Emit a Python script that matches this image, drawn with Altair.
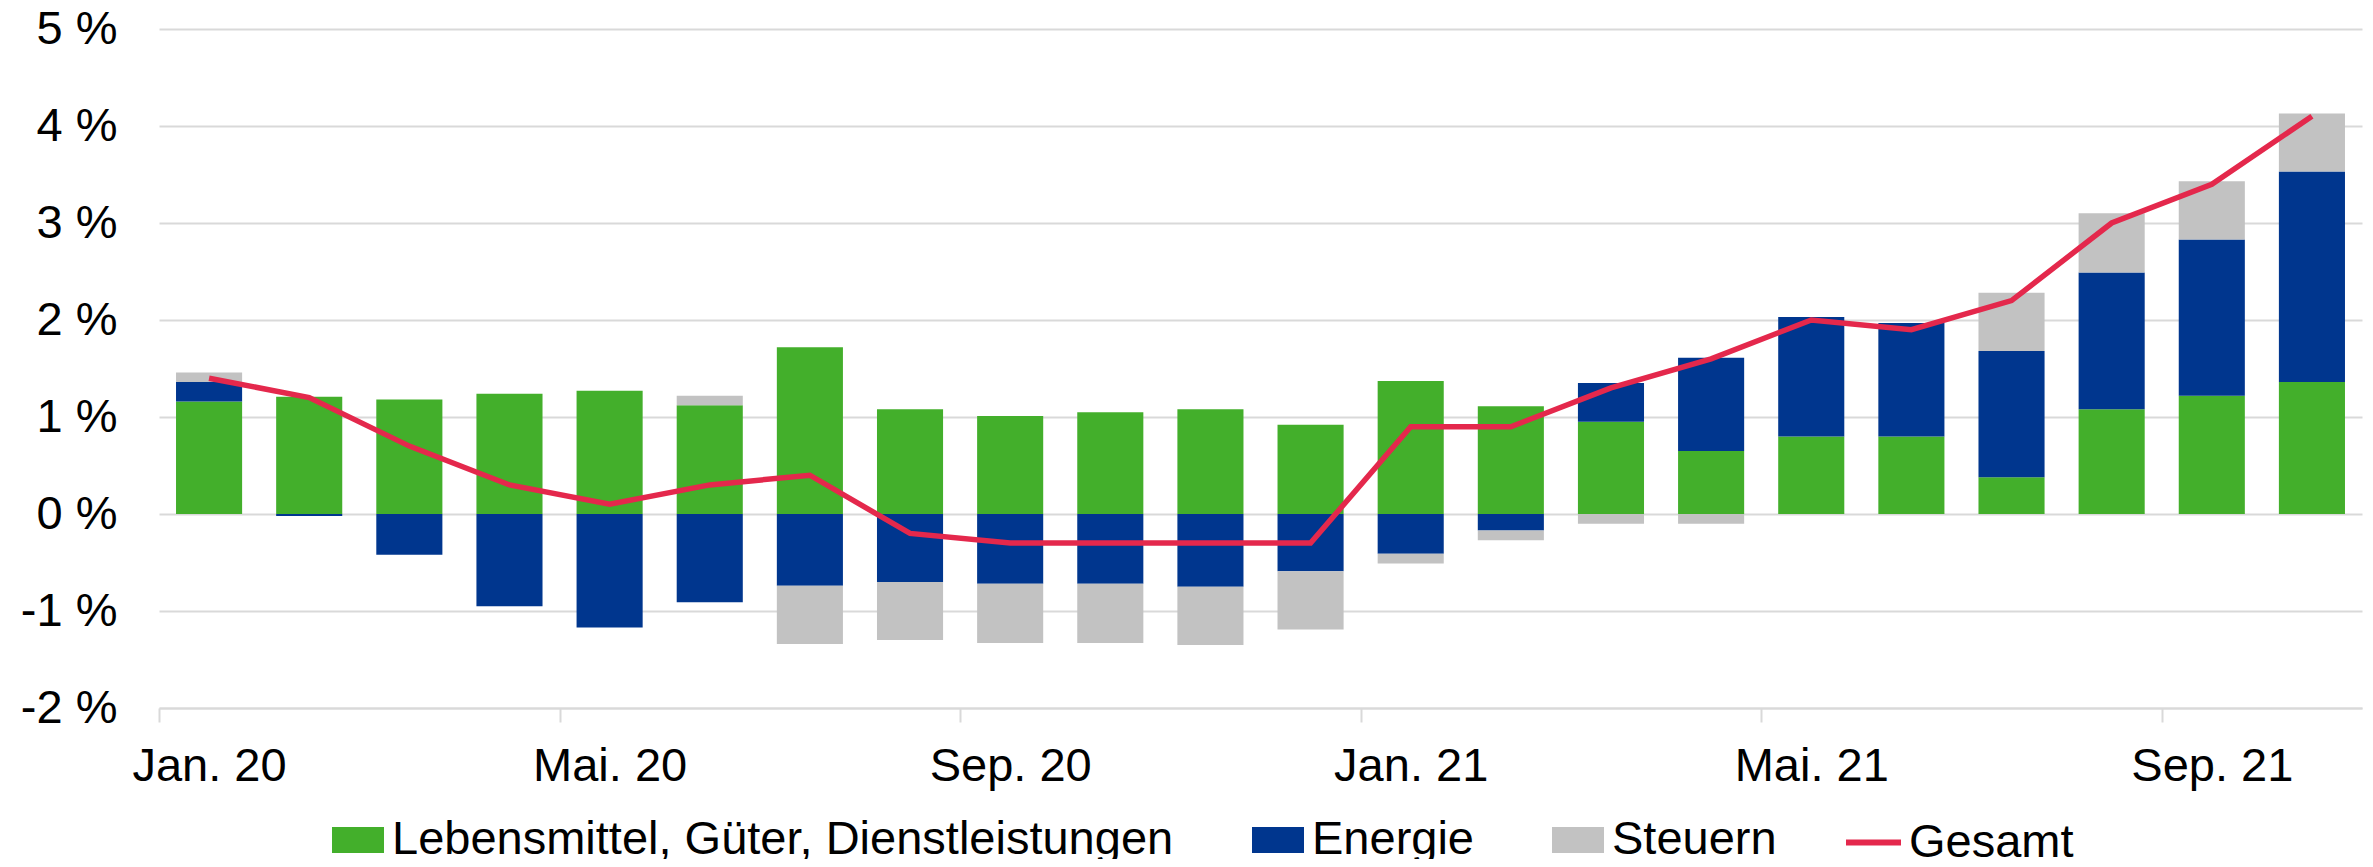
import altair as alt
import pandas as pd

FONT = "Liberation Sans"
GRID = "#d9d9d9"

monate = ["Jan. 20", "Feb. 20", "Mrz. 20", "Apr. 20", "Mai. 20", "Jun. 20",
          "Jul. 20", "Aug. 20", "Sep. 20", "Okt. 20", "Nov. 20", "Dez. 20",
          "Jan. 21", "Feb. 21", "Mrz. 21", "Apr. 21", "Mai. 21", "Jun. 21",
          "Jul. 21", "Aug. 21", "Sep. 21", "Okt. 21"]
achsen_labels = ["Jan. 20", "Mai. 20", "Sep. 20", "Jan. 21", "Mai. 21", "Sep. 21"]

lebensmittel = [1.16, 1.21, 1.18, 1.24, 1.27, 1.12, 1.72, 1.08, 1.01, 1.05, 1.08,
                0.92, 1.37, 1.11, 0.95, 0.65, 0.80, 0.80, 0.38, 1.08, 1.22, 1.36]
energie = [0.20, -0.02, -0.42, -0.95, -1.17, -0.91, -0.74, -0.70, -0.72, -0.72, -0.75,
           -0.59, -0.41, -0.17, 0.40, 0.96, 1.23, 1.17, 1.30, 1.41, 1.61, 2.17]
steuern = [0.10, 0.0, 0.0, 0.0, 0.0, 0.10, -0.60, -0.60, -0.61, -0.61, -0.60,
           -0.60, -0.10, -0.10, -0.10, -0.10, 0.0, 0.0, 0.60, 0.61, 0.60, 0.60]
gesamt = [1.4, 1.2, 0.7, 0.3, 0.1, 0.3, 0.4, -0.2, -0.3, -0.3, -0.3,
          -0.3, 0.9, 0.9, 1.3, 1.6, 2.0, 1.9, 2.2, 3.0, 3.4, 4.1]

komponenten = ["Lebensmittel, Güter, Dienstleistungen", "Energie", "Steuern"]
farben = ["#43af2b", "#00368e", "#c2c2c2"]
rot = "#e4284c"

rows = []
for i, m in enumerate(monate):
    for rang, (k, serie) in enumerate(zip(komponenten, [lebensmittel, energie, steuern])):
        rows.append({"Monat": m, "Komponente": k, "Wert": serie[i], "rang": rang})
bars_df = pd.DataFrame(rows)
line_df = pd.DataFrame({"Monat": monate, "Gesamt": gesamt, "Serie": ["Gesamt"] * len(monate)})

W = 2203
H = 679
step = W / len(monate)

x_enc = alt.X(
    "Monat:N", sort=monate,
    scale=alt.Scale(paddingInner=0.34, paddingOuter=0.17),
    axis=alt.Axis(values=achsen_labels, title=None, labelAngle=0, labelFontSize=47,
                  labelFont=FONT, labelColor="#000000", tickSize=14, tickColor=GRID,
                  tickWidth=2, domainColor=GRID, domainWidth=2, tickOffset=-step / 2,
                  labelOffset=step / 2, labelPadding=21, grid=False),
)
y_scale = alt.Scale(domain=[-2, 5], nice=False, zero=False)
y_axis = alt.Axis(values=[-2, -1, 0, 1, 2, 3, 4, 5], title=None,
                  labelExpr="datum.value + ' %'", labelFontSize=47, labelFont=FONT,
                  labelColor="#000000", grid=True, gridColor=GRID, gridWidth=2,
                  domain=False, ticks=False, tickSize=0, labelPadding=42)

bars = alt.Chart(bars_df).mark_bar().encode(
    x=x_enc,
    y=alt.Y("Wert:Q", stack="zero", scale=y_scale, axis=y_axis),
    color=alt.Color(
        "Komponente:N",
        scale=alt.Scale(domain=komponenten, range=farben),
        legend=alt.Legend(title=None, orient="none", legendX=173, legendY=785,
                          direction="horizontal", columns=3,
                          symbolType="M-1,-0.5H1V0.5H-1Z", symbolSize=2704,
                          symbolStrokeWidth=0, symbolOpacity=1,
                          labelFontSize=47, labelFont=FONT, labelColor="#000000",
                          labelOffset=8, columnPadding=78, labelLimit=2000, padding=0),
    ),
    order=alt.Order("rang:Q"),
)

line = alt.Chart(line_df).mark_line(strokeWidth=5.5).encode(
    x=x_enc,
    y=alt.Y("Gesamt:Q", scale=y_scale, axis=y_axis),
    color=alt.Color(
        "Serie:N",
        scale=alt.Scale(domain=["Gesamt"], range=[rot]),
        legend=alt.Legend(title=None, orient="none", legendX=1684, legendY=783,
                          symbolType="stroke", symbolSize=3025, symbolStrokeWidth=6,
                          labelFontSize=47, labelFont=FONT, labelColor="#000000",
                          labelOffset=5, labelLimit=2000, padding=0),
    ),
)

chart = alt.layer(bars, line).resolve_scale(color="independent").properties(
    width=W, height=H,
    autosize=alt.AutoSizeParams(type="none"),
    padding={"left": 151, "top": 21, "right": 2, "bottom": 151},
    background="white",
).configure_view(stroke=None)

chart.save("out.html", embed_options={"renderer": "svg", "actions": False})
